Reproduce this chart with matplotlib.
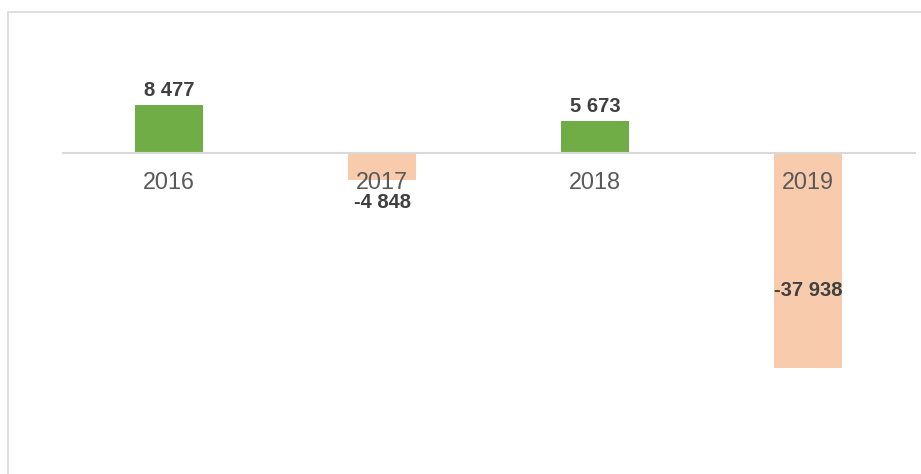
import matplotlib.pyplot as plt
from matplotlib.patches import Rectangle

# data
years = ['2016', '2017', '2018', '2019']
values = [8477, -4848, 5673, -37938]

green = '#70ad47'
peach = '#f8cbad'
colors = [green if v >= 0 else peach for v in values]

plt.rcParams['font.family'] = ['Liberation Sans', 'DejaVu Sans']

W, H = 921, 474
fig = plt.figure(figsize=(W / 100, H / 100), dpi=100)

# axes placed so the zero line lands at y=153 px, x spans 62..915 px
top_px, bot_px = 30, 460
ax = fig.add_axes([62.5 / W, 1 - bot_px / H, 852 / W, (bot_px - top_px) / H])
scale = 176.5  # value units per pixel
ax.set_ylim(-(bot_px - 153) * scale, (153 - top_px) * scale)
ax.set_xlim(-0.5, 3.5)

x = range(len(years))
ax.bar(x, values, width=0.32, color=colors, zorder=1)

# zero line with year labels on it
for s in ['top', 'right', 'left']:
    ax.spines[s].set_visible(False)
ax.spines['bottom'].set_position(('data', 0))
ax.spines['bottom'].set_color('#d9d9d9')
ax.spines['bottom'].set_linewidth(1.5)
ax.set_yticks([])
ax.set_xticks(list(x))
ax.set_xticklabels(years, fontsize=16.8, color='#595959')
ax.tick_params(axis='x', length=0, pad=13)

# value labels
lbl = dict(fontsize=14.5, fontweight='bold', color='#404040', ha='center')
for xi, v in zip(x, values):
    txt = f"{v:,}".replace(",", " ")
    if v >= 0:
        ax.annotate(txt, (xi, v), xytext=(0, 3.5), textcoords='offset points',
                    va='bottom', **lbl)
    elif v > -20000:
        ax.annotate(txt, (xi, v), xytext=(0, -9), textcoords='offset points',
                    va='top', **lbl)
    else:
        ax.text(xi, v * 0.64, txt, va='center', **lbl)

# thin frame on top and left (cropped chart area)
fig.add_artist(Rectangle((7.5 / W, -0.2), 1.2, 1 - 11.5 / H + 0.2, transform=fig.transFigure,
                         fill=False, edgecolor='#d9d9d9', linewidth=1.2))

fig.savefig('out.png', dpi=100)
